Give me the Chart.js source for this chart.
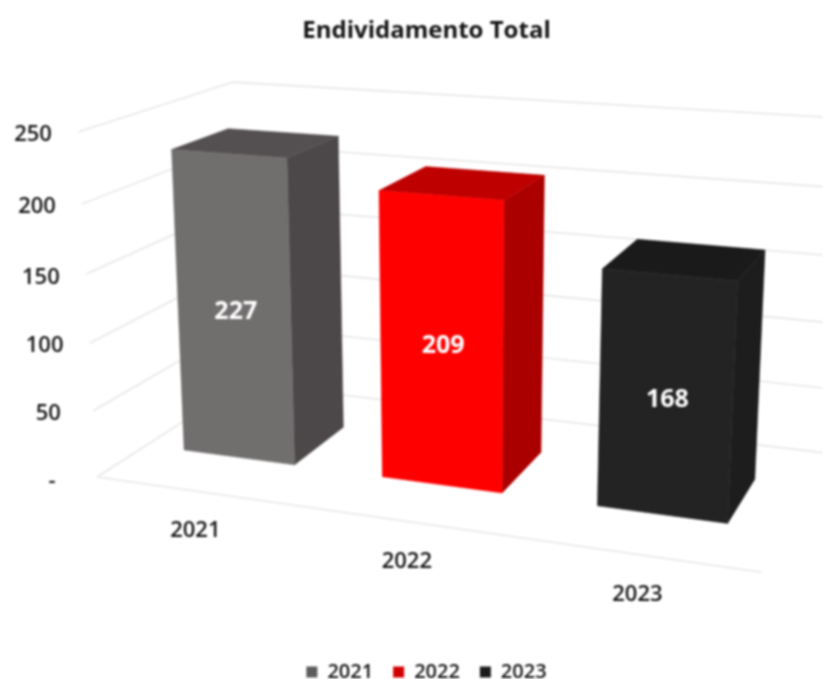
<!DOCTYPE html>
<html>
<head>
<meta charset="utf-8">
<title>Endividamento Total</title>
<script src="https://cdn.jsdelivr.net/npm/chart.js@4/dist/chart.umd.min.js"></script>
<style>
    html, body { margin: 0; padding: 0; background: #fff; overflow: hidden; }
    #wrap { width: 823px; height: 679px; }
    /* the reference is a soft, low resolution picture */
    #myChart { filter: blur(0.8px); }
</style>
</head>
<body>
<div id="wrap"><canvas id="myChart" width="823" height="679"></canvas></div>
<script>
const years = ['2021', '2022', '2023'];
const totals = [227, 209, 168];

const frontColors = ['#716e6e', '#ff0000', '#232323'];
const sideColors = ['#4c4849', '#ab0000', '#1d1d1d'];
const topColors = ['#544f50', '#bf0000', '#1a1a1a'];
const legendColors = ['#5c5a5a', '#d40000', '#1c1c1c'];

const fontName = '"Open Sans", "Noto Sans", sans-serif';

// camera of the 3D box: floor corner + vanishing points, weight = scale along the axis
const origin = [97, 477];
const vpX = [-4700, -210], weightX = -0.1217;
const vpY = [460, 7087], weightY = -0.0496;
const vpZ = [1188, -225], weightZ = 0.1545;
const barDepth = [0.31, 0.69];
const barShift = -0.0065;

function project(u, v, w) {
    const a = u * weightX, b = v * weightY, c = w * weightZ;
    const d = 1 + a + b + c;
    return [
        (origin[0] + a * vpX[0] + b * vpY[0] + c * vpZ[0]) / d,
        (origin[1] + a * vpX[1] + b * vpY[1] + c * vpZ[1]) / d
    ];
}

function polyline(ctx, pts) {
    ctx.beginPath();
    pts.forEach(function (p, i) {
        if (i == 0) ctx.moveTo(p[0], p[1]);
        else ctx.lineTo(p[0], p[1]);
    });
}

function fillFace(ctx, pts, color) {
    polyline(ctx, pts);
    ctx.closePath();
    ctx.fillStyle = color;
    ctx.fill();
    ctx.strokeStyle = color;
    ctx.lineWidth = 0.5;
    ctx.stroke();
}

const perspective = {
    id: 'perspective',
    beforeDatasetsDraw(chart) {
        const ctx = chart.ctx;
        const area = chart.chartArea;
        const sx = chart.scales.x;
        const sy = chart.scales.y;
        const toV = function (px) { return (area.bottom - px) / area.height; };
        const toU = function (px) { return (px - area.left) / area.width; };

        ctx.save();

        // walls and floor
        ctx.strokeStyle = '#e7e7e7';
        ctx.lineWidth = 1.6;
        sy.ticks.forEach(function (t) {
            const v = toV(sy.getPixelForValue(t.value));
            polyline(ctx, [project(0, v, 0), project(0, v, 1), project(1, v, 1)]);
            ctx.stroke();
        });
        polyline(ctx, [project(0, 0, 0), project(1, 0, 0)]);
        ctx.stroke();

        // value axis labels
        ctx.font = '600 22px ' + fontName;
        ctx.fillStyle = '#151515';
        ctx.textAlign = 'center';
        ctx.textBaseline = 'middle';
        sy.ticks.forEach(function (t) {
            const p = project(0, toV(sy.getPixelForValue(t.value)), 0);
            ctx.fillText(t.label, p[0] - 45, p[1] + (t.value == 0 ? 5 : 3));
        });

        // category labels
        sx.ticks.forEach(function (t, i) {
            const p = project(toU(sx.getPixelForTick(i)), 0, 0);
            ctx.fillText(t.label, p[0] - 1, p[1] + 40);
        });

        // columns
        const meta = chart.getDatasetMeta(0);
        meta.data.forEach(function (bar, i) {
            const u0 = toU(bar.x - bar.width / 2) + barShift;
            const u1 = toU(bar.x + bar.width / 2) + barShift;
            const top = toV(bar.y);
            const base = toV(bar.base);
            const w0 = barDepth[0], w1 = barDepth[1];

            fillFace(ctx, [project(u1, base, w0), project(u1, base, w1), project(u1, top, w1), project(u1, top, w0)], sideColors[i]);
            fillFace(ctx, [project(u0, top, w0), project(u0, top, w1), project(u1, top, w1), project(u1, top, w0)], topColors[i]);
            fillFace(ctx, [project(u0, base, w0), project(u1, base, w0), project(u1, top, w0), project(u0, top, w0)], frontColors[i]);

            const c = project((u0 + u1) / 2, (top + base) / 2, w0);
            ctx.font = 'bold 25px ' + fontName;
            ctx.fillStyle = '#ffffff';
            ctx.fillText(String(totals[i]), c[0] + 2, c[1] + 3);
        });

        ctx.restore();
        return false;
    }
};

const config = {
    type: 'bar',
    data: {
        labels: years,
        datasets: [{
            label: 'Endividamento Total',
            data: totals,
            backgroundColor: frontColors,
            barPercentage: 0.567,
            categoryPercentage: 1
        }]
    },
    options: {
        responsive: false,
        animation: false,
        layout: {
            padding: { left: 30, bottom: -13 }
        },
        scales: {
            x: {
                display: false
            },
            y: {
                display: false,
                min: 0,
                max: 250,
                ticks: {
                    stepSize: 50,
                    callback: function (value) {
                        return value == 0 ? '-' : String(value);
                    }
                }
            }
        },
        plugins: {
            title: {
                display: true,
                text: 'Endividamento Total',
                color: '#141414',
                font: { family: fontName, size: 24, weight: 'bold' },
                padding: { top: 17, bottom: 10 }
            },
            legend: {
                position: 'bottom',
                onClick: function () { },
                labels: {
                    color: '#151515',
                    font: { family: fontName, size: 20, weight: '600' },
                    boxWidth: 11,
                    boxHeight: 11,
                    padding: 20,
                    generateLabels: function () {
                        return years.map(function (y, i) {
                            return { text: y, fillStyle: legendColors[i], strokeStyle: legendColors[i], lineWidth: 0, fontColor: '#151515', index: i };
                        });
                    }
                }
            },
            tooltip: { enabled: false }
        }
    },
    plugins: [perspective]
};

const myChart = new Chart(document.getElementById('myChart'), config);
</script>
</body>
</html>
